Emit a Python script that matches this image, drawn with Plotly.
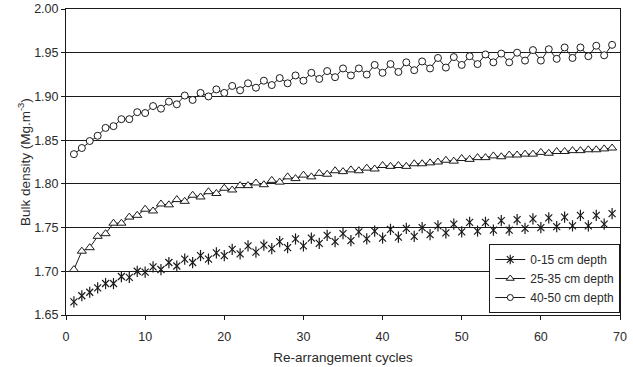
import plotly.graph_objects as go

cycles = list(range(1, 70))

depth_0_15 = [1.665, 1.672, 1.676, 1.681, 1.686, 1.686, 1.694, 1.693, 1.700, 1.699,
              1.705, 1.702, 1.710, 1.706, 1.714, 1.710, 1.718, 1.714, 1.721, 1.718,
              1.725, 1.720, 1.729, 1.722, 1.730, 1.726, 1.734, 1.727, 1.737, 1.729,
              1.738, 1.732, 1.741, 1.734, 1.743, 1.735, 1.745, 1.737, 1.746, 1.738,
              1.748, 1.739, 1.749, 1.740, 1.750, 1.742, 1.752, 1.744, 1.754, 1.745,
              1.756, 1.746, 1.756, 1.747, 1.758, 1.747, 1.759, 1.749, 1.760, 1.750,
              1.761, 1.751, 1.762, 1.752, 1.764, 1.752, 1.764, 1.754, 1.766]

depth_25_35 = [1.702, 1.723, 1.727, 1.740, 1.743, 1.755, 1.755, 1.762, 1.764, 1.771,
               1.769, 1.777, 1.776, 1.782, 1.780, 1.787, 1.785, 1.791, 1.789, 1.795,
               1.793, 1.798, 1.798, 1.801, 1.799, 1.804, 1.802, 1.808, 1.806, 1.810,
               1.808, 1.812, 1.811, 1.815, 1.814, 1.816, 1.815, 1.818, 1.817, 1.821,
               1.820, 1.821, 1.820, 1.823, 1.823, 1.824, 1.825, 1.827, 1.826, 1.829,
               1.828, 1.830, 1.830, 1.832, 1.831, 1.833, 1.833, 1.834, 1.834, 1.836,
               1.835, 1.837, 1.837, 1.838, 1.838, 1.839, 1.839, 1.840, 1.841]

depth_40_50 = [1.834, 1.841, 1.849, 1.855, 1.864, 1.866, 1.874, 1.874, 1.882, 1.881,
               1.889, 1.886, 1.894, 1.891, 1.901, 1.896, 1.904, 1.900, 1.908, 1.904,
               1.912, 1.907, 1.915, 1.910, 1.918, 1.913, 1.921, 1.915, 1.924, 1.918,
               1.927, 1.920, 1.929, 1.922, 1.932, 1.924, 1.932, 1.925, 1.936, 1.927,
               1.937, 1.928, 1.939, 1.930, 1.940, 1.932, 1.944, 1.933, 1.945, 1.936,
               1.946, 1.937, 1.948, 1.939, 1.949, 1.939, 1.950, 1.941, 1.953, 1.941,
               1.954, 1.943, 1.956, 1.944, 1.956, 1.946, 1.958, 1.947, 1.959]

series_names = ["0-15 cm depth", "25-35 cm depth", "40-50 cm depth"]
y_ticks = [1.65, 1.70, 1.75, 1.80, 1.85, 1.90, 1.95, 2.00]
x_ticks = [0, 10, 20, 30, 40, 50, 60, 70]
y_title = "Bulk density (Mg.m<sup>-3</sup>)"
x_title = "Re-arrangement cycles"

INK = "#1a1a1a"
TXT = "#2a2a2a"
fig = go.Figure()

# 0-15 cm: asterisk-like markers (X + vertical bar), no connecting line
fig.add_trace(go.Scatter(x=cycles, y=depth_0_15, mode="markers", showlegend=False,
                         marker=dict(symbol="x-thin-open", size=7, color=INK,
                                     line=dict(color=INK, width=1.2))))
fig.add_trace(go.Scatter(x=cycles, y=depth_0_15, mode="markers", showlegend=False,
                         marker=dict(symbol="line-ns-open", size=8, color=INK,
                                     line=dict(color=INK, width=1.2))))

# 25-35 cm: triangles
fig.add_trace(go.Scatter(x=cycles, y=depth_25_35, mode="lines+markers", showlegend=False,
                         line=dict(color=INK, width=1),
                         marker=dict(symbol="triangle-up", size=8, color="white",
                                     line=dict(color=INK, width=1))))

# 40-50 cm: circles
fig.add_trace(go.Scatter(x=cycles, y=depth_40_50, mode="lines+markers", showlegend=False,
                         line=dict(color=INK, width=1),
                         marker=dict(symbol="circle", size=7, color="white",
                                     line=dict(color=INK, width=1))))

# legend entries
fig.add_trace(go.Scatter(x=[None], y=[None], mode="lines+markers", name=series_names[0],
                         line=dict(color=INK, width=1),
                         marker=dict(symbol="asterisk-open", size=8, color=INK,
                                     line=dict(color=INK, width=1.2))))
fig.add_trace(go.Scatter(x=[None], y=[None], mode="lines+markers", name=series_names[1],
                         line=dict(color=INK, width=1),
                         marker=dict(symbol="triangle-up", size=7, color="white",
                                     line=dict(color=INK, width=1))))
fig.add_trace(go.Scatter(x=[None], y=[None], mode="lines+markers", name=series_names[2],
                         line=dict(color=INK, width=1),
                         marker=dict(symbol="circle", size=6, color="white",
                                     line=dict(color=INK, width=1))))

fig.update_layout(
    width=633, height=367,
    margin=dict(l=66, r=13, t=9, b=52),
    paper_bgcolor="white", plot_bgcolor="white",
    font=dict(family="Liberation Sans, Arial, sans-serif", size=12, color=TXT),
    showlegend=True,
    legend=dict(x=0.764, y=0.232, xanchor="left", yanchor="top",
                bgcolor="white", bordercolor=INK, borderwidth=1,
                font=dict(size=12, color=TXT), tracegroupgap=0,
                itemwidth=30),
    xaxis=dict(range=[0, 70], tickvals=x_ticks, ticks="outside", ticklen=4,
               tickcolor=INK, showline=True, linecolor=INK, linewidth=1, mirror=True,
               showgrid=False, zeroline=False, ticklabelstandoff=6, automargin=False,
               tickfont=dict(size=12.5),
               title=dict(text=x_title, font=dict(size=13.5), standoff=9)),
    yaxis=dict(range=[1.65, 2.00], tickvals=y_ticks, tickformat=".2f", ticks="outside",
               ticklen=4, tickcolor=INK, showline=True, linecolor=INK, linewidth=1,
               mirror=True, showgrid=True, gridcolor=INK, gridwidth=1, zeroline=False,
               automargin=False, tickfont=dict(size=12.5)),
    annotations=[dict(text=y_title, xref="paper", yref="paper", x=-0.076, y=0.5,
                      xanchor="center", yanchor="middle", textangle=-90,
                      showarrow=False, font=dict(size=13.5, color=TXT))],
)

fig.write_html("out.html")
